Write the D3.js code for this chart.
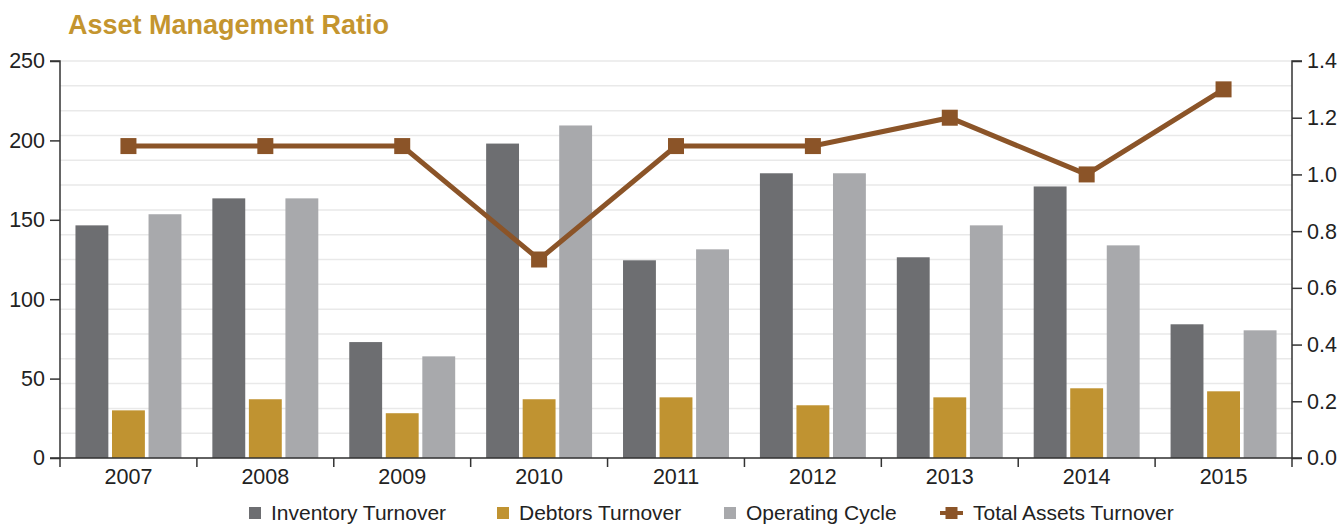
<!DOCTYPE html>
<html>
<head>
<meta charset="utf-8">
<script src="https://cdn.jsdelivr.net/npm/d3@7"></script>
<style>
  html, body { margin: 0; padding: 0; background: #ffffff; }
  svg { display: block; font-family: "Liberation Sans", Arial, Helvetica, sans-serif; }
</style>
</head>
<body>
<svg id="chart" width="1339" height="525"></svg>
<script>
// Fiscal years on the category axis
const years = ["2007", "2008", "2009", "2010", "2011", "2012", "2013", "2014", "2015"];

// Bar series (left axis)
const inventoryTurnover = [146.5, 163.5, 73, 198, 124.5, 179.3, 126.4, 171, 84.2];
const debtorsTurnover   = [30, 37, 28.2, 37, 38.2, 33.2, 38.2, 43.9, 42];
const operatingCycle    = [153.5, 163.5, 64, 209.4, 131.4, 179.3, 146.5, 133.9, 80.4];

// Line series (right axis)
const totalAssetsTurnover = [1.1, 1.1, 1.1, 0.7, 1.1, 1.1, 1.2, 1.0, 1.3];

// Axis ticks
const leftTicks  = [0, 50, 100, 150, 200, 250];
const rightTicks = [0, 0.2, 0.4, 0.6, 0.8, 1.0, 1.2, 1.4];

const barSeries = [
  { name: "Inventory Turnover", values: inventoryTurnover, color: "#6d6e71" },
  { name: "Debtors Turnover",   values: debtorsTurnover,   color: "#c09331" },
  { name: "Operating Cycle",    values: operatingCycle,    color: "#a8a9ac" }
];
const lineColor = "#8b5428";

const svg = d3.select("#chart");
const plot = { left: 60, right: 1292, top: 61, bottom: 458 };

const x0 = d3.scaleBand().domain(years).range([plot.left, plot.right]).padding(0);
const bw = x0.bandwidth();
const x1 = d3.scaleBand().domain(barSeries.map(s => s.name))
  .range([bw * 0.113, bw * 0.887]).paddingInner(0.1).paddingOuter(0);
const yL = d3.scaleLinear().domain([0, 250]).range([plot.bottom, plot.top]);
const yR = d3.scaleLinear().domain([0, 1.4]).range([plot.bottom, plot.top]);

// Horizontal gridlines: sixteen even divisions of the plot height
const gridCount = 16;
const gridVals = d3.range(gridCount + 1).map(i => 250 * i / gridCount);
svg.append("g").selectAll("line").data(gridVals).join("line")
  .attr("x1", plot.left).attr("x2", plot.right)
  .attr("y1", d => yL(d)).attr("y2", d => yL(d))
  .attr("stroke", "#e9e9e9").attr("stroke-width", 1.5);

// Bars
const groups = svg.append("g").selectAll("g").data(years).join("g")
  .attr("transform", d => `translate(${x0(d)},0)`);
groups.selectAll("rect")
  .data((d, i) => barSeries.map(s => ({ name: s.name, value: s.values[i], color: s.color })))
  .join("rect")
  .attr("x", d => x1(d.name))
  .attr("width", x1.bandwidth())
  .attr("y", d => yL(d.value))
  .attr("height", d => yL(0) - yL(d.value))
  .attr("fill", d => d.color);

// Axes
const axisColor = "#333333";
const tickFont = "21.5px";

const gLeft = svg.append("g").attr("transform", `translate(${plot.left},0)`)
  .call(d3.axisLeft(yL).tickValues(leftTicks).tickSize(10).tickPadding(5).tickFormat(d3.format("d")));
const gRight = svg.append("g").attr("transform", `translate(${plot.right},0)`)
  .call(d3.axisRight(yR).tickValues(rightTicks).tickSize(10).tickPadding(5).tickFormat(d3.format(".1f")));
const gBottom = svg.append("g").attr("transform", `translate(0,${plot.bottom})`)
  .call(d3.axisBottom(x0).tickSize(0).tickPadding(11));

// Category boundary ticks on the x axis
const bounds = years.map(y => x0(y)).concat([plot.right]);
svg.append("g").selectAll("line").data(bounds).join("line")
  .attr("x1", d => d).attr("x2", d => d)
  .attr("y1", plot.bottom).attr("y2", plot.bottom + 9)
  .attr("stroke", axisColor).attr("stroke-width", 1.5);

[gLeft, gRight, gBottom].forEach(g => {
  g.select(".domain").attr("stroke", axisColor).attr("stroke-width", 1.5);
  g.selectAll(".tick line").attr("stroke", axisColor).attr("stroke-width", 1.5);
  g.selectAll(".tick text").attr("fill", "#222").style("font-size", tickFont)
    .style("font-family", "'Liberation Sans', Arial, sans-serif");
});
gLeft.select(".domain").attr("d", `M-10,${plot.top}H0V${plot.bottom}H-10`);
gRight.select(".domain").attr("d", `M10,${plot.top}H0V${plot.bottom}H10`);
gBottom.select(".domain").attr("d", `M${plot.left},0H${plot.right}`);

// Line series with square markers
const cx = d => x0(d) + bw / 2;
const lineData = years.map((y, i) => ({ year: y, value: totalAssetsTurnover[i] }));
svg.append("path").datum(lineData)
  .attr("fill", "none").attr("stroke", lineColor).attr("stroke-width", 5)
  .attr("stroke-linejoin", "miter")
  .attr("d", d3.line().x(d => cx(d.year)).y(d => yR(d.value)));
const ms = 16;
svg.append("g").selectAll("rect").data(lineData).join("rect")
  .attr("x", d => cx(d.year) - ms / 2).attr("y", d => yR(d.value) - ms / 2)
  .attr("width", ms).attr("height", ms).attr("fill", lineColor);

// Title
svg.append("text").attr("x", 68).attr("y", 34)
  .attr("fill", "#c4952f").style("font-size", "27px").style("font-weight", "bold")
  .text("Asset Management Ratio");

// Legend
const legendItems = [
  { name: "Inventory Turnover", color: "#6d6e71", type: "box", x: 249 },
  { name: "Debtors Turnover", color: "#c09331", type: "box", x: 497 },
  { name: "Operating Cycle", color: "#a8a9ac", type: "box", x: 724 },
  { name: "Total Assets Turnover", color: lineColor, type: "line", x: 940 }
];
const lg = svg.append("g").selectAll("g").data(legendItems).join("g")
  .attr("transform", d => `translate(${d.x},513)`);
lg.filter(d => d.type === "box").append("rect")
  .attr("x", 0).attr("y", -6).attr("width", 12).attr("height", 12).attr("fill", d => d.color);
lg.filter(d => d.type === "line").append("line")
  .attr("x1", 0).attr("x2", 23).attr("y1", 0).attr("y2", 0)
  .attr("stroke", d => d.color).attr("stroke-width", 4);
lg.filter(d => d.type === "line").append("rect")
  .attr("x", 5.5).attr("y", -6).attr("width", 12).attr("height", 12).attr("fill", d => d.color);
lg.append("text")
  .attr("x", d => d.type === "line" ? 33 : 22).attr("y", 7)
  .attr("fill", "#222").style("font-size", "21px")
  .text(d => d.name);
</script>
</body>
</html>
